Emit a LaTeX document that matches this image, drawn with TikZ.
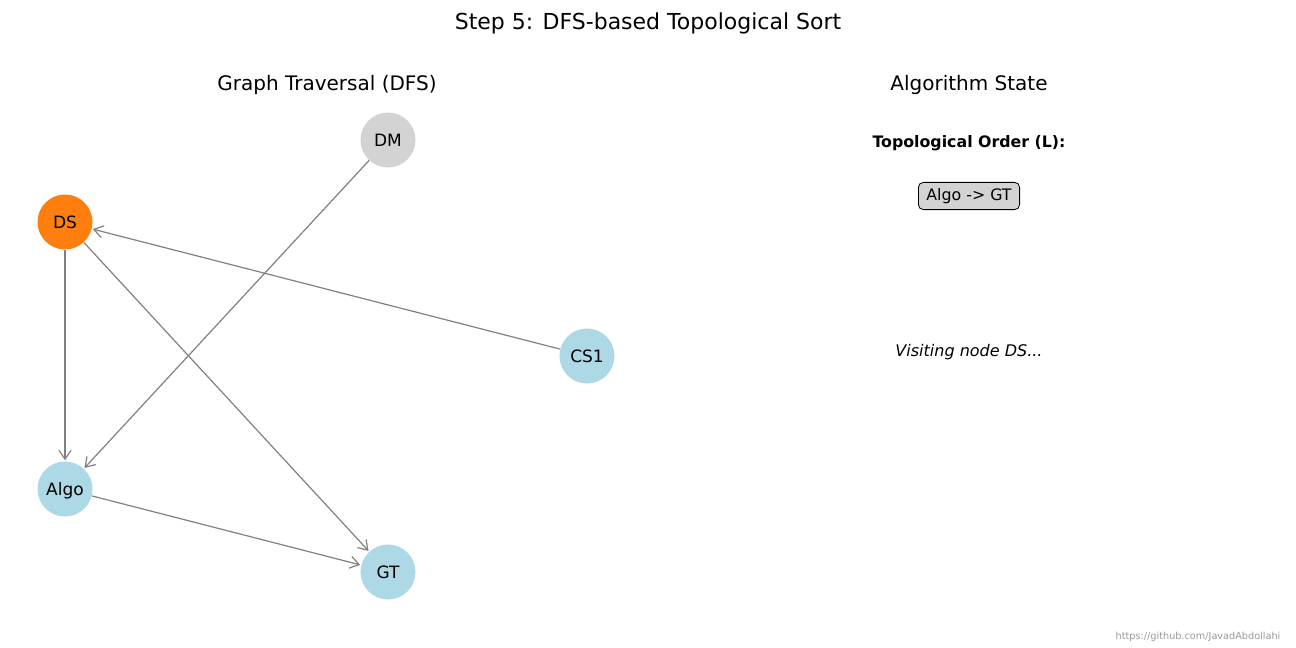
\documentclass[tikz,border=0pt]{standalone}
\usepackage{fontspec}
\setmainfont{DejaVu Sans}
\usetikzlibrary{arrows.meta}
\definecolor{nodeblue}{HTML}{ADD8E6}
\definecolor{nodegray}{HTML}{D3D3D3}
\definecolor{nodeorange}{HTML}{FF7F0E}
\definecolor{edgegray}{HTML}{808080}
\newcommand{\fs}[1]{\fontsize{#1}{#1}\selectfont}
\tikzset{
  vertex/.style={circle, minimum size=55pt, inner sep=0pt, font=\fs{17}, text height=12.4pt, text depth=0pt},
  edge/.style={draw=edgegray, line width=1.2pt, -{Straight Barb[length=9pt,width=12pt,line width=1.2pt]}, shorten >=1pt},
  heading/.style={font=\fs{20}},
}
\begin{document}
\begin{tikzpicture}[x=1pt,y=-1pt]
\useasboundingbox (0,0) rectangle (1296,648);
% titles
\node[font=\fs{22}] (title) at (648,23) {Step 5: DFS-based Topological Sort};
\node[heading] (left) at (327,84.5) {Graph Traversal (DFS)};
\node[heading] (right) at (969,84.5) {Algorithm State};
% graph vertices
\node[vertex, fill=nodegray] (DM) at (388,140) {DM};
\node[vertex, fill=nodeorange] (DS) at (65,222) {DS};
\node[vertex, fill=nodeblue] (CS1) at (587,356) {CS1};
\node[vertex, fill=nodeblue] (Algo) at (65,489) {Algo};
\node[vertex, fill=nodeblue] (GT) at (388,572) {GT};
% dependencies
\draw[edge] (DM) -- (Algo);
\draw[edge] (DS) -- (Algo);
\draw[edge] (DS) -- (GT);
\draw[edge] (CS1) -- (DS);
\draw[edge] (Algo) -- (GT);
% algorithm state panel
\node[font=\bfseries\fs{15.8}] (orderlbl) at (969,143) {Topological Order (L):};
\node[draw=black, fill=nodegray, rounded corners=5pt, line width=0.8pt, inner xsep=8pt, inner ysep=6pt, font=\fs{15.8}] (order) at (969,196) {Algo -> GT};
\node[font=\itshape\fs{16}] (status) at (969,352) {Visiting node DS...};
\node[font=\fs{9.7}, text=black!40] (credit) at (1198,637) {https://github.com/JavadAbdollahi};
\end{tikzpicture}
\end{document}
